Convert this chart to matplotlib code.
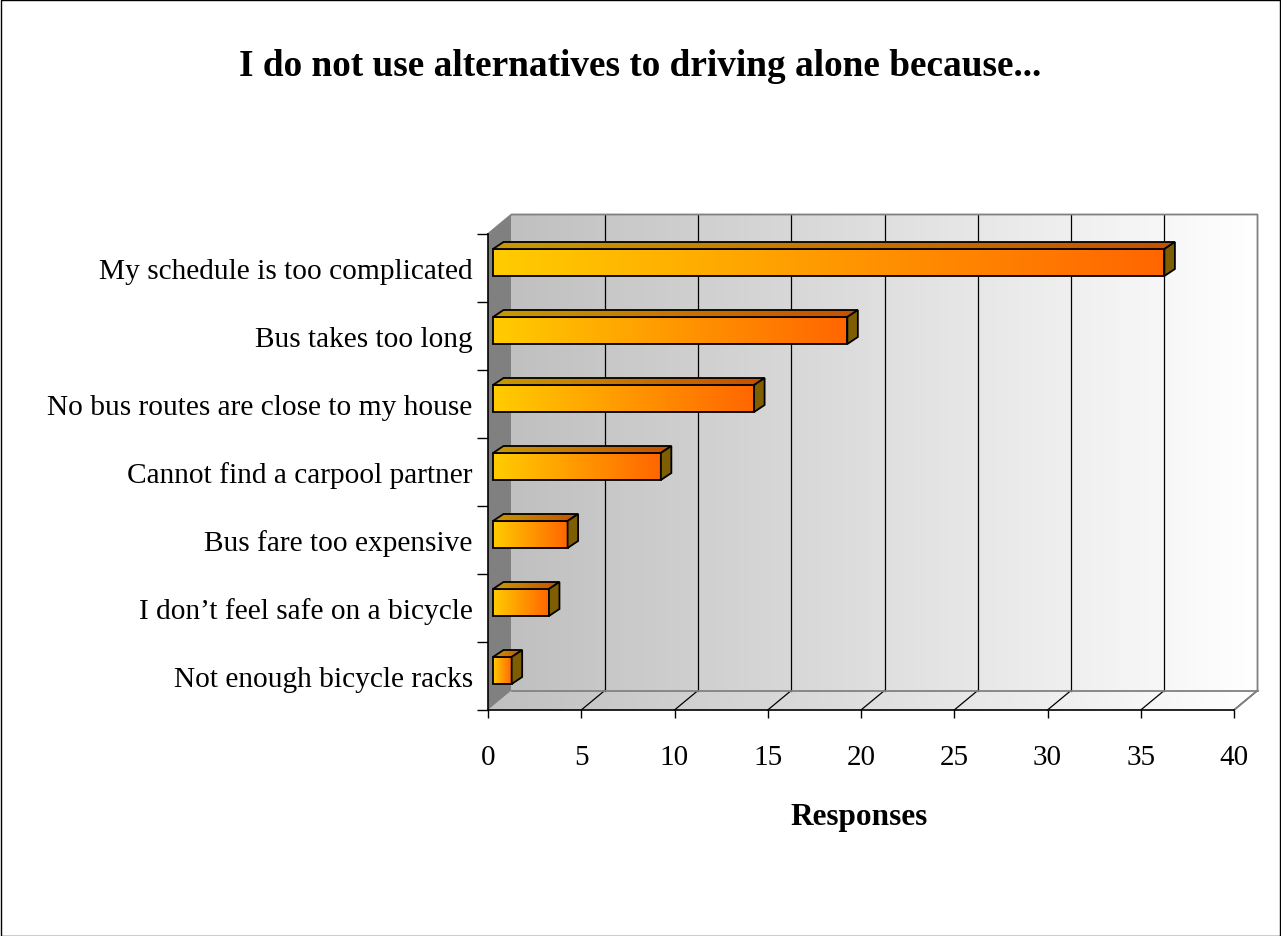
import matplotlib
matplotlib.use("Agg")
import matplotlib.pyplot as plt
import numpy as np
from matplotlib.patches import Polygon, Rectangle
from matplotlib.colors import LinearSegmentedColormap

# ---------------- data ----------------
categories = [
    "My schedule is too complicated",
    "Bus takes too long",
    "No bus routes are close to my house",
    "Cannot find a carpool partner",
    "Bus fare too expensive",
    "I don\u2019t feel safe on a bicycle",
    "Not enough bicycle racks",
]
responses = [36, 19, 14, 9, 4, 3, 1]
x_ticks = [0, 5, 10, 15, 20, 25, 30, 35, 40]
title = "I do not use alternatives to driving alone because..."
xlabel = "Responses"

# ---------------- layout ----------------
W, H = 1281, 937
FONT = ["Liberation Serif", "DejaVu Serif"]
plt.rcParams["font.family"] = FONT

fig = plt.figure(figsize=(W / 100, H / 100), dpi=100)
L, R, T, B = 488, 1234, 235, 711          # front plane of the plot box (pixels)
ax = fig.add_axes([L / W, 1 - B / H, (R - L) / W, (B - T) / H])
n = len(categories)
XMAX = x_ticks[-1]
pxx = (R - L) / XMAX
pxy = (B - T) / n

DX, DY = 23.5 / pxx, -19.5 / pxy          # wall depth in data units
BX0 = 5 / pxx                              # bar front offset
BY0, BY1 = 15 / pxy, 42 / pxy              # bar front face top/bottom within slot
BDX, BDY = 10.5 / pxx, -7 / pxy            # bar depth

grad = np.linspace(0, 1, 256).reshape(1, -1)
wall_cmap = LinearSegmentedColormap.from_list("wall", ["#C0C0C0", "#FFFFFF"])
front_cmap = LinearSegmentedColormap.from_list("front", ["#FFCC00", "#FF6600"])
top_cmap = LinearSegmentedColormap.from_list("top", ["#C89A00", "#C65000"])
side_color = "#7E5E00"
edge_gray = "#808080"


def grad_fill(x0, x1, y0, y1, cmap, clip_patch=None, z=1):
    im = ax.imshow(grad, cmap=cmap, extent=[x0, x1, y1, y0], aspect="auto",
                   interpolation="bilinear", zorder=z)
    im.set_clip_box(fig.bbox)
    if clip_patch is not None:
        im.set_clip_path(clip_patch)
    return im


# back wall
grad_fill(DX, XMAX + DX, n + DY, DY, wall_cmap, z=0.5)
# floor
floor = Polygon([(0, n), (XMAX, n), (XMAX + DX, n + DY), (DX, n + DY)], closed=True,
                fc="none", ec="none", clip_on=False, zorder=0.6)
ax.add_patch(floor)
grad_fill(0, XMAX + DX, n, n + DY, wall_cmap, clip_patch=floor, z=0.6)
# left wall
ax.add_patch(Polygon([(0, 0), (0, n), (DX, n + DY), (DX, DY)], closed=True,
                     fc="#808080", ec="none", clip_on=False, zorder=0.7))

# gridlines on back wall and floor
for v in x_ticks[1:-1]:
    ax.plot([v + DX, v + DX], [DY, n + DY], color="black", lw=0.9, clip_on=False, zorder=1)
for v in x_ticks[1:]:
    ax.plot([v, v + DX], [n, n + DY], color="black", lw=0.9, clip_on=False, zorder=1)

# wall outlines
ax.plot([0, DX, XMAX + DX, XMAX + DX, XMAX], [0, DY, DY, n + DY, n],
        color=edge_gray, lw=1.3, clip_on=False, zorder=1.1)
ax.plot([DX, XMAX + DX], [n + DY, n + DY], color=edge_gray, lw=1.3, clip_on=False, zorder=1.1)

# bars
for i, v in enumerate(responses):
    x0, x1 = BX0, BX0 + v
    yt, yb = i + BY0, i + BY1
    # front face
    grad_fill(x0, x1, yb, yt, front_cmap, z=5)
    ax.add_patch(Rectangle((x0, yt), v, yb - yt, fc="none", ec="black", lw=1.3,
                           clip_on=False, zorder=5.5))
    # top face
    top = Polygon([(x0, yt), (x1, yt), (x1 + BDX, yt + BDY), (x0 + BDX, yt + BDY)],
                  closed=True, fc="none", ec="black", lw=1.3, clip_on=False, zorder=6.5)
    ax.add_patch(top)
    grad_fill(x0, x1 + BDX, yt, yt + BDY, top_cmap, clip_patch=top, z=6)
    # side face
    ax.add_patch(Polygon([(x1, yt), (x1 + BDX, yt + BDY), (x1 + BDX, yb + BDY), (x1, yb)],
                         closed=True, fc=side_color, ec="black", lw=1.3,
                         clip_on=False, zorder=6.5))

# axes
ax.set_xlim(0, XMAX)
ax.set_ylim(n, 0)
for s in ["top", "right"]:
    ax.spines[s].set_visible(False)
for s in ["left", "bottom"]:
    ax.spines[s].set_color("black")
    ax.spines[s].set_linewidth(1.2)
    ax.spines[s].set_zorder(3)
ax.patch.set_visible(False)

ax.set_xticks(x_ticks)
ax.set_xticklabels([str(t) for t in x_ticks])
ax.tick_params(axis="x", direction="out", length=5.5, width=1, color="black",
               pad=19, labelsize=21)
ax.set_yticks(np.arange(n + 1))
ax.set_yticklabels([])
ax.tick_params(axis="y", which="major", direction="out", length=8, width=1, color="black")
ax.set_yticks(np.arange(n) + 0.5, minor=True)
ax.set_yticklabels(categories, minor=True)
ax.tick_params(axis="y", which="minor", length=0, pad=11, labelsize=21.2)

fig.text(0.5, 1 - 66 / H, title, ha="center", va="center", fontsize=26.8, fontweight="bold")
fig.text(859 / W, 1 - 818 / H, xlabel, ha="center", va="center", fontsize=22.5, fontweight="bold")

# figure border
fig.patches.append(Rectangle((0.5 / W, 0.5 / H), 1 - 1.5 / W, 1 - 1.5 / H,
                             transform=fig.transFigure, fill=False, ec="black", lw=1))

fig.savefig("out.png", dpi=100)
